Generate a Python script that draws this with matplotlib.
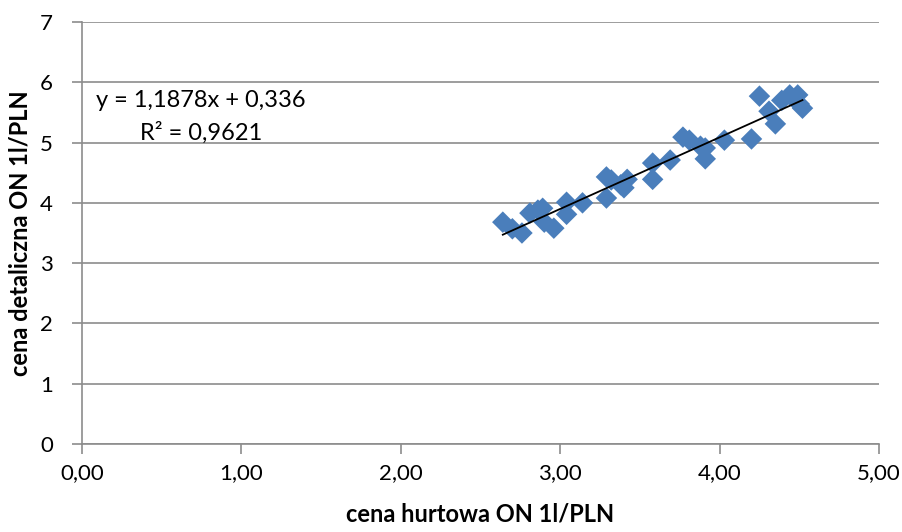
import matplotlib
matplotlib.use('Agg')
from matplotlib import pyplot as plt
from matplotlib.ticker import FuncFormatter

# wholesale vs retail diesel price (PLN per litre)
hurt = [2.64, 2.70, 2.76, 2.81, 2.86, 2.89, 2.90, 2.96, 3.04, 3.04,
        3.14, 3.29, 3.29, 3.32, 3.38, 3.40, 3.42, 3.58, 3.58, 3.69,
        3.77, 3.81, 3.88, 3.91, 3.91, 4.03, 4.20, 4.25, 4.31, 4.35,
        4.39, 4.44, 4.49, 4.50, 4.52]
detal = [3.68, 3.57, 3.50, 3.83, 3.88, 3.91, 3.68, 3.58, 4.01, 3.81,
         4.00, 4.43, 4.08, 4.38, 4.30, 4.25, 4.39, 4.66, 4.39, 4.71,
         5.09, 5.04, 4.94, 4.91, 4.73, 5.04, 5.06, 5.77, 5.52, 5.31,
         5.70, 5.79, 5.79, 5.64, 5.57]

slope = 1.1878
intercept = 0.336
r2 = 0.9621

plt.rcParams['font.family'] = ['Lato', 'DejaVu Sans']

fig = plt.figure(figsize=(9.03, 5.32), dpi=100)
ax = fig.add_axes([82 / 903, 88 / 532, 797 / 903, 422 / 532])

ax.scatter(hurt, detal, marker='D', s=120, color='#4a7ebb', edgecolors='none', zorder=3)

x0, x1 = min(hurt), max(hurt)
ax.plot([x0, x1], [slope * x0 + intercept, slope * x1 + intercept],
        color='black', lw=1.3, zorder=4)

ax.set_xlim(0, 5)
ax.set_ylim(0, 7)
ax.set_xticks([0, 1, 2, 3, 4, 5])
ax.set_yticks(range(8))
ax.xaxis.set_major_formatter(FuncFormatter(lambda v, p: f'{v:.2f}'.replace('.', ',')))

ax.grid(axis='y', color='#8c8c8c', lw=1.2)
ax.set_axisbelow(True)
for side in ['top', 'right']:
    ax.spines[side].set_visible(False)
for side in ['left', 'bottom']:
    ax.spines[side].set_color('#8c8c8c')
    ax.spines[side].set_linewidth(1.2)
ax.tick_params(axis='both', colors='#8c8c8c', length=7, width=1.2,
               labelcolor='black', labelsize=16)
ax.tick_params(axis='x', pad=7)
ax.tick_params(axis='y', pad=14)

ax.text(0.09, 5.7, 'y = 1,1878x + 0,336', fontsize=17, va='center', ha='left')
ax.text(0.75, 5.17, 'R² = 0,9621', fontsize=17, va='center', ha='center')

ax.set_xlabel('cena hurtowa ON 1l/PLN', fontsize=17, fontweight='bold', labelpad=14)
ax.set_ylabel('cena detaliczna ON 1l/PLN', fontsize=17, fontweight='bold', labelpad=6)

fig.savefig('out.png', dpi=100)
